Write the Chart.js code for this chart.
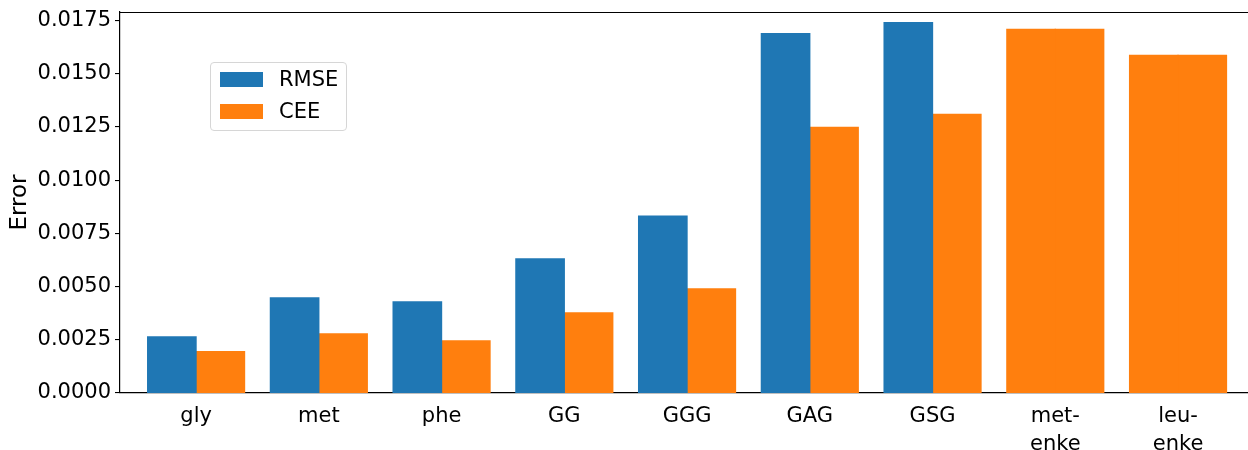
<!DOCTYPE html>
<html>
<head>
<meta charset="utf-8">
<script src="https://cdn.jsdelivr.net/npm/chart.js@4.4.1/dist/chart.umd.min.js"></script>
<style>
  html, body { margin: 0; padding: 0; background: #fff; overflow: hidden; }
  #wrap { position: relative; width: 1248px; height: 450px; }
  #legend {
    position: absolute; left: 210px; top: 62px; width: 135px; height: 67px;
    border: 1px solid #d6d6d6; border-radius: 4px; background: rgba(255,255,255,0.85);
    font-family: "DejaVu Sans", sans-serif; font-size: 21px; color: #000;
  }
  .row { position: absolute; left: 9px; height: 16px; }
  .sw { position: absolute; left: 0; top: 0; width: 43px; height: 15px; }
  .lb { position: absolute; left: 59px; top: -4px; white-space: nowrap; line-height: 22px; }
</style>
</head>
<body>
<div id="wrap">
  <canvas id="c" width="1248" height="450"></canvas>
  <div id="legend"></div>
</div>
<script>
// Categories (multi-line names are split into lines)
const categories = ['gly', 'met', 'phe', 'GG', 'GGG', 'GAG', 'GSG', ['met-', 'enke'], ['leu-', 'enke']];
// Error values per category
const rmseValues = [0.00264, 0.00447, 0.00428, 0.00630, 0.00831, 0.01689, 0.01740, 0.01708, 0.01586];
const ceeValues  = [0.00194, 0.00278, 0.00245, 0.00376, 0.00489, 0.01248, 0.01309, 0.01708, 0.01586];
// Enkephalin entries only have CEE, so both slots are filled in orange
const rmseColors = ['#1f77b4', '#1f77b4', '#1f77b4', '#1f77b4', '#1f77b4', '#1f77b4', '#1f77b4', '#ff7f0e', '#ff7f0e'];
const yTickStep = 0.0025;

const FONT = { family: "'DejaVu Sans', sans-serif", size: 21 };

const topSpine = {
  id: 'topSpine',
  afterDraw(chart) {
    const { ctx, chartArea } = chart;
    ctx.save();
    ctx.strokeStyle = '#000';
    ctx.lineWidth = 1.1;
    ctx.beginPath();
    ctx.moveTo(chartArea.left, chartArea.top + 0.5);
    ctx.lineTo(chartArea.right, chartArea.top + 0.5);
    ctx.stroke();
    ctx.restore();
  }
};

const chart = new Chart(document.getElementById('c'), {
  type: 'bar',
  data: {
    datasets: [
      { label: 'RMSE', data: rmseValues.map((v, i) => ({ x: i, y: v })), backgroundColor: rmseColors, legendColor: '#1f77b4' },
      { label: 'CEE', data: ceeValues.map((v, i) => ({ x: i, y: v })), backgroundColor: '#ff7f0e', legendColor: '#ff7f0e' }
    ]
  },
  options: {
    responsive: false,
    animation: false,
    devicePixelRatio: 1,
    layout: { padding: { top: 12, left: 0, right: 0, bottom: 0 } },
    datasets: { bar: { categoryPercentage: 0.79, barPercentage: 1.0, borderWidth: 0, inflateAmount: 0.6 } },
    plugins: { legend: { display: false }, tooltip: { enabled: false } },
    scales: {
      x: {
        type: 'linear',
        min: -0.62,
        max: 8.57,
        offset: false,
        afterFit(s) { s.height = 57; },
        grid: { offset: false, drawOnChartArea: false, drawTicks: false, tickLength: 0 },
        border: { display: true, color: '#000', width: 1.2 },
        ticks: {
          stepSize: 1,
          includeBounds: false,
          autoSkip: false,
          maxRotation: 0,
          padding: 9,
          color: '#000',
          font: { ...FONT, lineHeight: 1.35 },
          callback: (v) => Number.isInteger(v) && v >= 0 && v < categories.length ? categories[v] : ''
        }
      },
      y: {
        min: 0,
        max: 0.0179,
        afterFit(s) { s.width = 120; },
        grid: { drawOnChartArea: false, drawTicks: true, tickLength: 5, color: '#000', lineWidth: 1.1 },
        border: { display: true, color: '#000', width: 1.2 },
        title: { display: true, text: 'Error', color: '#000', font: { ...FONT, size: 23 }, padding: { top: 6, bottom: 0 } },
        ticks: {
          stepSize: yTickStep,
          includeBounds: false,
          padding: 4,
          color: '#000',
          font: { ...FONT, lineHeight: 0.7 },
          callback: (v) => v.toFixed(4)
        }
      }
    }
  },
  plugins: [topSpine]
});

// Legend built from the datasets
const legend = document.getElementById('legend');
chart.data.datasets.forEach((ds, i) => {
  const row = document.createElement('div');
  row.className = 'row';
  row.style.top = (9 + i * 32) + 'px';
  const sw = document.createElement('div');
  sw.className = 'sw';
  sw.style.background = ds.legendColor;
  const lb = document.createElement('div');
  lb.className = 'lb';
  lb.textContent = ds.label;
  row.appendChild(sw);
  row.appendChild(lb);
  legend.appendChild(row);
});
</script>
</body>
</html>
